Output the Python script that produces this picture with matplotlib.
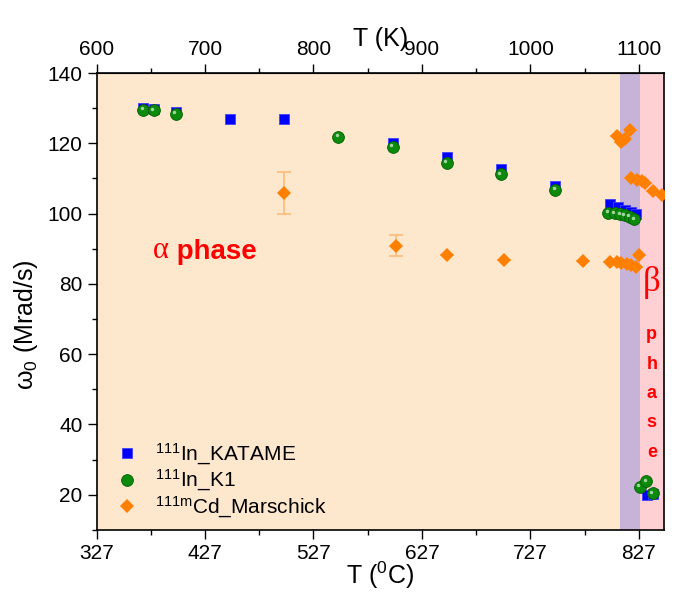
import matplotlib
matplotlib.use('Agg')
import matplotlib.pyplot as plt
from matplotlib.transforms import ScaledTranslation

plt.rcParams['font.family'] = ['Liberation Sans', 'DejaVu Sans']
plt.rcParams['mathtext.default'] = 'regular'

# temperatures in deg C, omega_0 in Mrad/s
katame_T = [370, 380, 400, 450, 500, 600, 650, 700, 750, 800, 808, 814, 820, 824, 835, 840]
katame_w = [130.0, 129.8, 129.0, 126.8, 126.8, 120.0, 116.1, 112.8, 107.8, 102.7, 101.9, 101.1, 100.5, 99.8, 19.8, 20.3]

k1_T = [370, 380, 400, 550, 600, 650, 700, 750, 799, 805, 810, 814, 819, 823, 828, 834, 840]
k1_w = [129.6, 129.4, 128.4, 121.8, 118.9, 114.5, 111.2, 106.7, 100.3, 100.1, 99.8, 99.5, 99.0, 98.4, 22.2, 23.8, 20.4]

cd_T = [500, 603, 650, 703, 776, 800, 807, 811, 816, 820, 824, 827,
        807, 811, 814, 819, 820, 825, 830, 833, 840, 848]
cd_w = [105.8, 90.8, 88.3, 86.8, 86.6, 86.3, 86.2, 85.9, 85.7, 85.3, 84.9, 88.1,
        122.0, 120.4, 121.1, 123.8, 110.0, 109.5, 109.3, 108.7, 106.5, 105.2]
cd_err = [6, 3, 0, 0, 0, 0, 0, 0, 0, 0, 0, 0,
          0, 0, 0, 0, 0, 0, 0, 0, 0, 0]

alpha_end = 810   # start of mixed region
beta_start = 828  # start of beta phase

fig = plt.figure(figsize=(6.95, 5.96), dpi=100)
ax = fig.add_axes([0.139, 0.111, 0.816, 0.7665])
ax.set_facecolor('#FDE8CE')
ax.axvspan(alpha_end, beta_start, color='#C8B3D8', lw=0, zorder=0)
ax.axvspan(beta_start, 860, color='#FED0D4', lw=0, zorder=0)

ax.plot(katame_T, katame_w, 's', color='#0000FF', mec='#4040FF', ms=7.5, mew=0.6,
        label='$^{111}$In_KATAME', zorder=3)
ax.plot(k1_T, k1_w, 'o', color='#0B8A0B', mec='#056005', ms=8.5, mew=0.6,
        label='$^{111}$In_K1', zorder=4)
# small highlight to give the spheres a shine
shine = ax.transData + ScaledTranslation(-1.2 / 72, 1.2 / 72, fig.dpi_scale_trans)
ax.plot(k1_T, k1_w, 'o', color='#C8E8C8', mec='none', ms=2.5, alpha=0.8,
        transform=shine, zorder=5)
ax.errorbar(cd_T, cd_w, yerr=cd_err, fmt='none', ecolor='#FFBE80',
            elinewidth=1.3, capsize=5, capthick=1.3, zorder=2)
ax.plot(cd_T, cd_w, 'D', color='#FF8000', ms=7.5, mew=0,
        label='$^{111m}$Cd_Marschick', zorder=3)

ax.set_xlim(327, 850)
ax.set_ylim(10, 140)
ax.set_xticks([327, 427, 527, 627, 727, 827])
ax.set_xticks([377, 477, 577, 677, 777], minor=True)
ax.set_yticks([20, 40, 60, 80, 100, 120, 140])
ax.set_yticks([10, 30, 50, 70, 90, 110, 130], minor=True)
ax.tick_params(which='major', length=6.5, width=1, labelsize=15, direction='out')
ax.tick_params(which='minor', length=3.5, width=1, direction='out')
for s in ax.spines.values():
    s.set_linewidth(1.2)

ax.set_xlabel('T ($^0$C)', fontsize=18, labelpad=-2)
ax.set_ylabel('ω$_0$ (Mrad/s)', fontsize=18, labelpad=2)
ax.yaxis.set_label_coords(-0.1, 0.45)

top = ax.secondary_xaxis('top', functions=(lambda c: c + 273, lambda k: k - 273))
top.set_xticks([600, 700, 800, 900, 1000, 1100])
top.set_xticks([650, 750, 850, 950, 1050], minor=True)
top.tick_params(which='major', length=6.5, width=1, labelsize=15, direction='out')
top.tick_params(which='minor', length=3.5, width=1, direction='out')
top.set_xlabel('T (K)', fontsize=18, labelpad=-4)

t_a = ax.text(379, 87.5, 'α', fontsize=22, color='#FF0000', family='Liberation Serif')
ax.annotate(' phase', xy=(1, 0), xycoords=t_a, fontsize=20, color='#FF0000',
            fontweight='bold', va='bottom')

ax.text(839, 80.5, 'β', fontsize=25, color='#FF0000', family='Liberation Serif',
        ha='center', va='center')
ax.text(839, 48.8, 'p\nh\na\ns\ne', fontsize=13, color='#FF0000', fontweight='bold',
        ha='center', va='center', linespacing=1.95)

ax.legend(loc='lower left', frameon=False, fontsize=15, handletextpad=0.6,
          handlelength=1.5, borderaxespad=0.3, labelspacing=0.05,
          bbox_to_anchor=(0.0, -0.01))

fig.savefig('out.png', dpi=100)
